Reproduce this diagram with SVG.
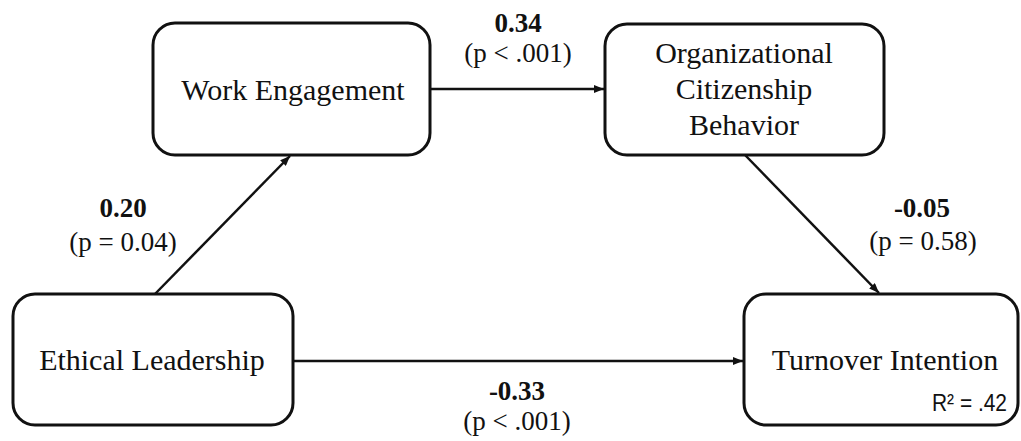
<svg xmlns="http://www.w3.org/2000/svg" width="1021" height="441" viewBox="0 0 1021 441">
<style>
.box{fill:#fff;stroke:#111;stroke-width:3}
.lbl{font-family:"Liberation Serif","Times New Roman",serif;font-size:30px;fill:#111;text-anchor:middle}
.el{font-family:"Liberation Serif","Times New Roman",serif;font-size:27px;fill:#111;text-anchor:middle}
.b{font-weight:bold}
.con{stroke:#111;stroke-width:2.5;fill:none;marker-end:url(#ah)}
.r2{font-family:"Liberation Sans",Arial,sans-serif;font-size:24px;fill:#111}
</style>
<defs>
<marker id="ah" viewBox="0 0 10 8" refX="10" refY="4" markerWidth="4" markerHeight="3.2" orient="auto" markerUnits="strokeWidth">
<path d="M0,0 L10,4 L0,8 Z" fill="#111"/>
</marker>
</defs>
<rect width="1021" height="441" fill="#fff"/>
<g id="connectors">
<line class="con" x1="155" y1="294" x2="290" y2="156"/>
<line class="con" x1="430" y1="89" x2="604" y2="89"/>
<line class="con" x1="745" y1="155" x2="879" y2="293"/>
<line class="con" x1="293" y1="361" x2="743" y2="361"/>
</g>
<g id="edge-labels">
<text class="el b" x="518" y="32">0.34</text>
<text class="el" x="518" y="62">(p &lt; .001)</text>
<text class="el b" x="123" y="217">0.20</text>
<text class="el" x="123" y="251">(p = 0.04)</text>
<text class="el b" x="922" y="217">-0.05</text>
<text class="el" x="923" y="250">(p = 0.58)</text>
<text class="el b" x="517" y="400">-0.33</text>
<text class="el" x="517" y="430">(p &lt; .001)</text>
</g>
<g id="work-engagement">
<rect class="box" x="153" y="23" width="277" height="132" rx="22"/>
<text class="lbl" x="293" y="100">Work Engagement</text>
</g>
<g id="ocb">
<rect class="box" x="605" y="24" width="279" height="131" rx="22"/>
<text class="lbl" x="744" y="63">Organizational</text>
<text class="lbl" x="744" y="99">Citizenship</text>
<text class="lbl" x="744" y="135">Behavior</text>
</g>
<g id="ethical-leadership">
<rect class="box" x="13" y="294" width="280" height="131" rx="22"/>
<text class="lbl" x="152" y="370">Ethical Leadership</text>
</g>
<g id="turnover-intention">
<rect class="box" x="744" y="294" width="274" height="131" rx="22"/>
<text class="lbl" x="885" y="370">Turnover Intention</text>
<text class="r2" x="932" y="411" textLength="75" lengthAdjust="spacingAndGlyphs">R² = .42</text>
</g>
</svg>
